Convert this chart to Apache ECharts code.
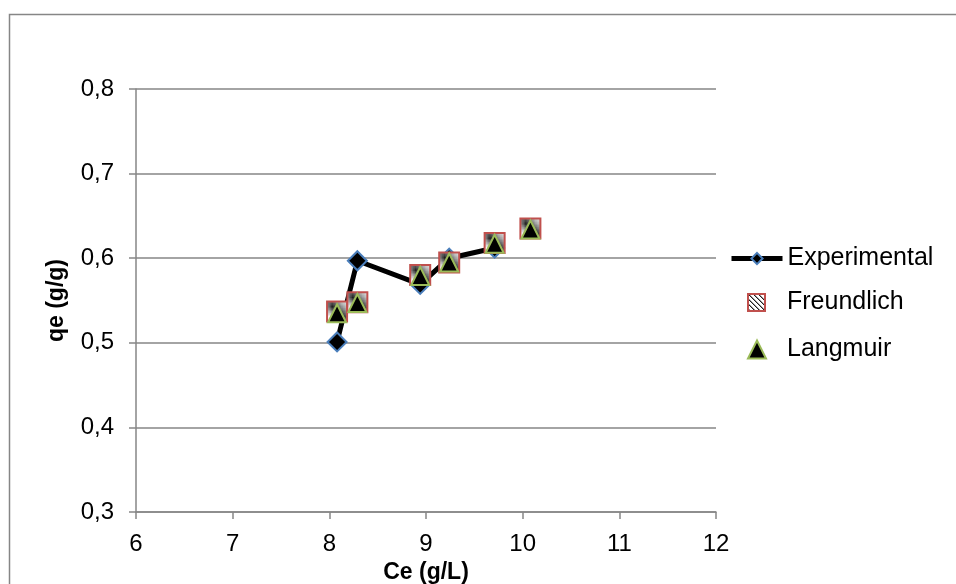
<!DOCTYPE html>
<html>
<head>
<meta charset="utf-8">
<script src="https://cdn.jsdelivr.net/npm/echarts@6/dist/echarts.min.js"></script>
<style>
  html, body { margin: 0; padding: 0; background: #fff; }
  #chart { width: 956px; height: 584px; }
</style>
</head>
<body>
<div id="chart"></div>
<script>
// values
var expX = [8.08, 8.29, 8.94, 9.24, 9.71];
var expY = [0.501, 0.597, 0.569, 0.600, 0.612];
var modelX = [8.08, 8.29, 8.94, 9.24, 9.71, 10.08];
var freundlichY = [0.537, 0.548, 0.580, 0.595, 0.618, 0.635];
var langmuirY = [0.535, 0.547, 0.579, 0.595, 0.617, 0.634];

var pair = function (xs, ys) {
    return xs.map(function (x, i) { return [x, ys[i]]; });
};

// hatched fill for the Freundlich squares
var makeHatch = function () {
    var c = document.createElement("canvas");
    c.width = 5; c.height = 5;
    var g = c.getContext("2d");
    g.fillStyle = "#ffffff";
    g.fillRect(0, 0, 5, 5);
    for (var i = 0; i < 5; i++) {
        g.fillStyle = "#202020";
        g.fillRect(i, i, 1, 1);
        g.fillStyle = "#9a9a9a";
        g.fillRect((i + 1) % 5, i, 1, 1);
    }
    return c;
};

var font = "Liberation Sans, Arial, sans-serif";
var gridColor = "#868686";
var legendText = { fontFamily: font, fontSize: 25, color: "#000" };

var myChart = echarts.init(document.getElementById("chart"));

var option = {
    animation: false,
    textStyle: { fontFamily: font },
    grid: { left: 136, top: 89, right: 240, bottom: 72, outerBoundsMode: "none" },
    graphic: [{
        type: "rect",
        shape: { x: 9.5, y: 14.5, width: 1000, height: 1000 },
        style: { fill: "none", stroke: gridColor, lineWidth: 1.5 },
        silent: true
    }],
    legend: [
        {
            left: 729, top: 246, padding: 0,
            itemWidth: 51, itemHeight: 14,
            lineStyle: { width: 5 },
            textStyle: legendText,
            data: ["Experimental"]
        },
        {
            left: 747, top: 290, padding: 0,
            itemWidth: 17, itemHeight: 17,
            textStyle: Object.assign({ padding: [0, 0, 0, 17] }, legendText),
            data: ["Freundlich"]
        },
        {
            left: 747, top: 337, padding: 0,
            itemWidth: 18, itemHeight: 18,
            textStyle: Object.assign({ padding: [0, 0, 0, 16] }, legendText),
            data: ["Langmuir"]
        }
    ],
    xAxis: {
        type: "value",
        min: 6,
        max: 12,
        interval: 1,
        name: "Ce (g/L)",
        nameLocation: "middle",
        nameGap: 44,
        nameTextStyle: { fontFamily: font, fontSize: 23, fontWeight: "bold", color: "#000" },
        axisLine: { lineStyle: { color: gridColor, width: 1.5 } },
        axisTick: { show: true, length: 7, lineStyle: { color: gridColor, width: 1.5 } },
        axisLabel: { fontSize: 24, color: "#000", margin: 20 },
        splitLine: { show: false }
    },
    yAxis: {
        type: "value",
        min: 0.3,
        max: 0.8,
        interval: 0.1,
        name: "qe (g/g)",
        nameLocation: "middle",
        nameGap: 68,
        nameTextStyle: { fontFamily: font, fontSize: 23, fontWeight: "bold", color: "#000" },
        axisLine: { show: true, lineStyle: { color: gridColor, width: 1.5 } },
        axisTick: { show: true, length: 7, lineStyle: { color: gridColor, width: 1.5 } },
        axisLabel: {
            fontSize: 24,
            color: "#000",
            margin: 22,
            formatter: function (v) { return v.toFixed(1).replace(".", ","); }
        },
        splitLine: { lineStyle: { color: gridColor, width: 1.5 } }
    },
    series: [
        {
            name: "Experimental",
            type: "line",
            data: pair(expX, expY),
            symbol: "diamond",
            symbolSize: 19,
            lineStyle: { color: "#000", width: 5 },
            itemStyle: { color: "#000", borderColor: "#4a7ebb", borderWidth: 2 },
            z: 2
        },
        {
            name: "Freundlich",
            type: "scatter",
            data: pair(modelX, freundlichY),
            symbol: "rect",
            symbolSize: 20,
            itemStyle: {
                color: { image: makeHatch(), repeat: "repeat" },
                borderColor: "#c0504d",
                borderWidth: 2,
                opacity: 1
            },
            z: 3
        },
        {
            name: "Langmuir",
            type: "scatter",
            data: pair(modelX, langmuirY),
            symbol: "triangle",
            symbolSize: 18,
            itemStyle: { color: "#000", borderColor: "#9bbb59", borderWidth: 2, opacity: 1 },
            z: 4
        }
    ]
};
myChart.setOption(option);
</script>
</body>
</html>
